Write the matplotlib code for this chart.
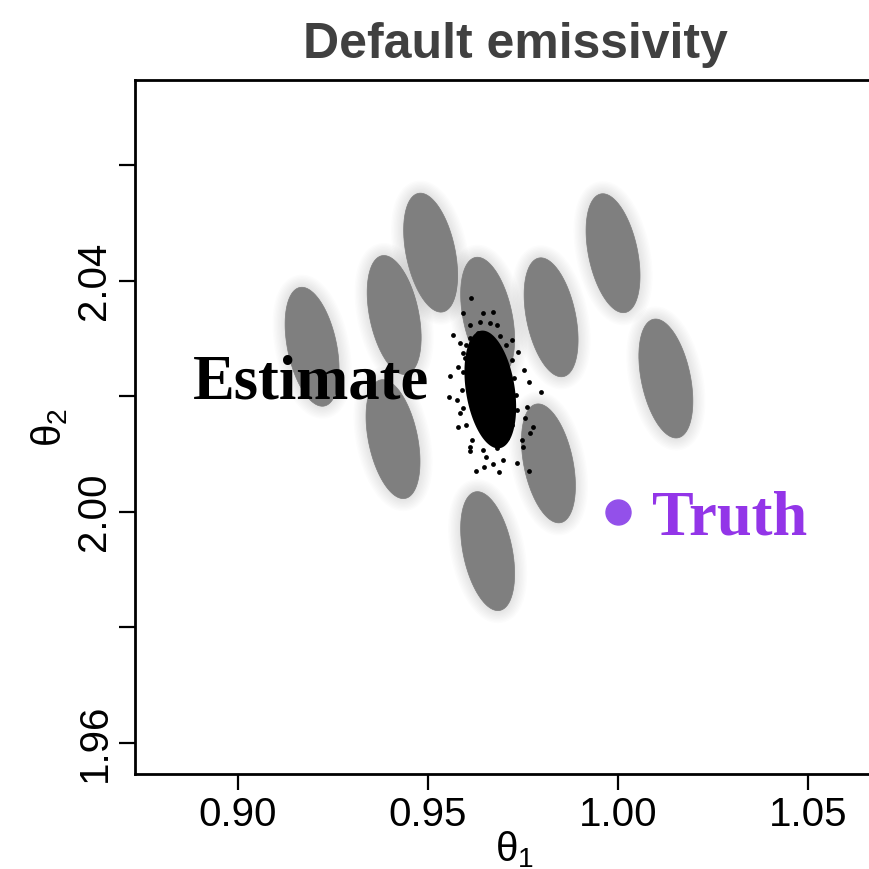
"""Default emissivity: estimate cloud vs truth in (theta1, theta2)."""

import numpy as np
import matplotlib
matplotlib.use("Agg")
import matplotlib.pyplot as plt
import matplotlib.patheffects as pe

# per-replicate posterior ellipses (centre theta1, theta2)
ell_theta1 = [0.9195, 0.9411, 0.9507, 0.9657, 0.9824, 0.9987, 1.0126, 0.9408, 0.9817, 0.9657]
ell_theta2 = [2.0286, 2.0341, 2.0449, 2.0338, 2.0337, 2.0448, 2.0231, 2.0126, 2.0084, 1.9932]
ell_sd1 = 0.0071     # half-extent along theta1
ell_sd2 = 0.0103     # half-extent along theta2
ell_rho = -0.38

# dense core of the estimate sample cloud
core_theta1, core_theta2 = 0.9664, 2.0212
core_sd1, core_sd2, core_rho = 0.0068, 0.0102, -0.30

# stray / edge samples of the cloud
cloud_theta1 = [
    0.96132, 0.95921, 0.96447, 0.96711, 0.95658, 0.97368, 0.95579, 0.97526,
    0.96105, 0.96368, 0.96632, 0.96816, 0.97211, 0.95842, 0.95789, 0.95921,
    0.95553, 0.97974, 0.97658, 0.97763, 0.97684, 0.96263, 0.96474, 0.96868,
    0.97658, 0.97342, 0.96711, 0.96105, 0.96105, 0.96526, 0.96974, 0.97500,
    0.97474, 0.95789, 0.95842, 0.95763, 0.97605, 0.97553,
    0.96000, 0.96105, 0.96316, 0.96895, 0.97053, 0.97211, 0.97263, 0.97316,
    0.97342, 0.97211, 0.97079, 0.96816, 0.96447, 0.96158, 0.96000, 0.95921,
    0.95895, 0.95921, 0.95974,
]
cloud_theta2 = [
    2.03706, 2.03446, 2.03446, 2.03463, 2.03065, 2.02771, 2.02355, 2.02459,
    2.03238, 2.03290, 2.03273, 2.03238, 2.02978, 2.02926, 2.02511, 2.02753,
    2.01991, 2.02078, 2.02251, 2.01472, 2.01368, 2.00710, 2.00779, 2.00693,
    2.00710, 2.00848, 2.00831, 2.01126, 2.01056, 2.00952, 2.00900, 2.01126,
    2.01247, 2.01472, 2.01714, 2.01939, 2.01818, 2.01628,
    2.02892, 2.03013, 2.03100, 2.03048, 2.02892, 2.02632, 2.02320, 2.02026,
    2.01766, 2.01506, 2.01281, 2.01108, 2.01074, 2.01247, 2.01506, 2.01801,
    2.02113, 2.02424, 2.02667,
]

truth = (1.00, 2.00)
estimate_label_pos = (0.8882, 2.0197)
truth_label_pos = (1.0090, 1.9960)

xticks = [0.90, 0.95, 1.00, 1.05]
yticks = [1.96, 1.98, 2.00, 2.02, 2.04, 2.06]
ytick_labels = ["1.96", "", "2.00", "", "2.04", ""]


def ellipse_xy(cx, cy, s1, s2, rho, n=200):
    t = np.linspace(0, 2 * np.pi, n)
    x = cx + s1 * np.cos(t)
    y = cy + s2 * (rho * np.cos(t) + np.sqrt(1 - rho ** 2) * np.sin(t))
    return x, y


def main() -> None:
    sans = ["Liberation Sans", "DejaVu Sans"]
    plt.rcParams["font.family"] = sans
    plt.rcParams["mathtext.fontset"] = "custom"
    plt.rcParams["mathtext.rm"] = "Liberation Sans"
    plt.rcParams["mathtext.it"] = "Liberation Sans"
    plt.rcParams["mathtext.default"] = "regular"

    fig = plt.figure(figsize=(8.69, 8.69), dpi=100)
    ax = fig.add_axes([135 / 869, 1 - 774 / 869, 760 / 869, 694 / 869])

    # soft halo around each ellipse via stacked translucent strokes
    halo = [pe.Stroke(linewidth=w, foreground="#808080", alpha=0.025)
            for w in range(18, 1, -2)] + [pe.Normal()]
    for cx, cy in zip(ell_theta1, ell_theta2):
        x, y = ellipse_xy(cx, cy, ell_sd1, ell_sd2, ell_rho)
        patch = ax.fill(x, y, color="#7f7f7f", lw=0.5, ec="#7f7f7f", zorder=2)[0]
        patch.set_path_effects(halo)

    x, y = ellipse_xy(core_theta1, core_theta2, core_sd1, core_sd2, core_rho)
    ax.fill(x, y, color="black", lw=0, zorder=3)
    ax.scatter(cloud_theta1, cloud_theta2, s=12, c="black", lw=0, zorder=3)

    ax.plot(*truth, "o", ms=18, color="#9350ea", mec="#9350ea", zorder=5)
    ax.text(*truth_label_pos, "Truth", family="Liberation Serif", weight="bold",
            fontsize=45, color="#9335e8", ha="left", va="baseline", zorder=5)
    ax.text(*estimate_label_pos, "Estimate", family="Liberation Serif",
            weight="bold", fontsize=45, color="black", ha="left",
            va="baseline", zorder=6)

    ax.set_xlim(0.8729, 1.0729)
    ax.set_ylim(1.9546, 2.0748)
    ax.set_xticks(xticks)
    ax.set_xticklabels([f"{v:.2f}" for v in xticks])
    ax.set_yticks(yticks)
    ax.set_yticklabels(ytick_labels, rotation=90, va="center")
    ax.tick_params(length=11.5, width=1.6, labelsize=29, pad=4, color="black")
    for s in ax.spines.values():
        s.set_linewidth(2)
    ax.set_xlabel("θ$_1$", fontsize=29, labelpad=-3)
    ax.set_ylabel("θ$_2$", fontsize=29, labelpad=4)
    ax.set_title("Default emissivity", family="Liberation Sans", weight="bold",
                 fontsize=36, color="#404040", pad=16)

    fig.savefig("out.png", dpi=100)
    plt.close(fig)


if __name__ == "__main__":
    main()
